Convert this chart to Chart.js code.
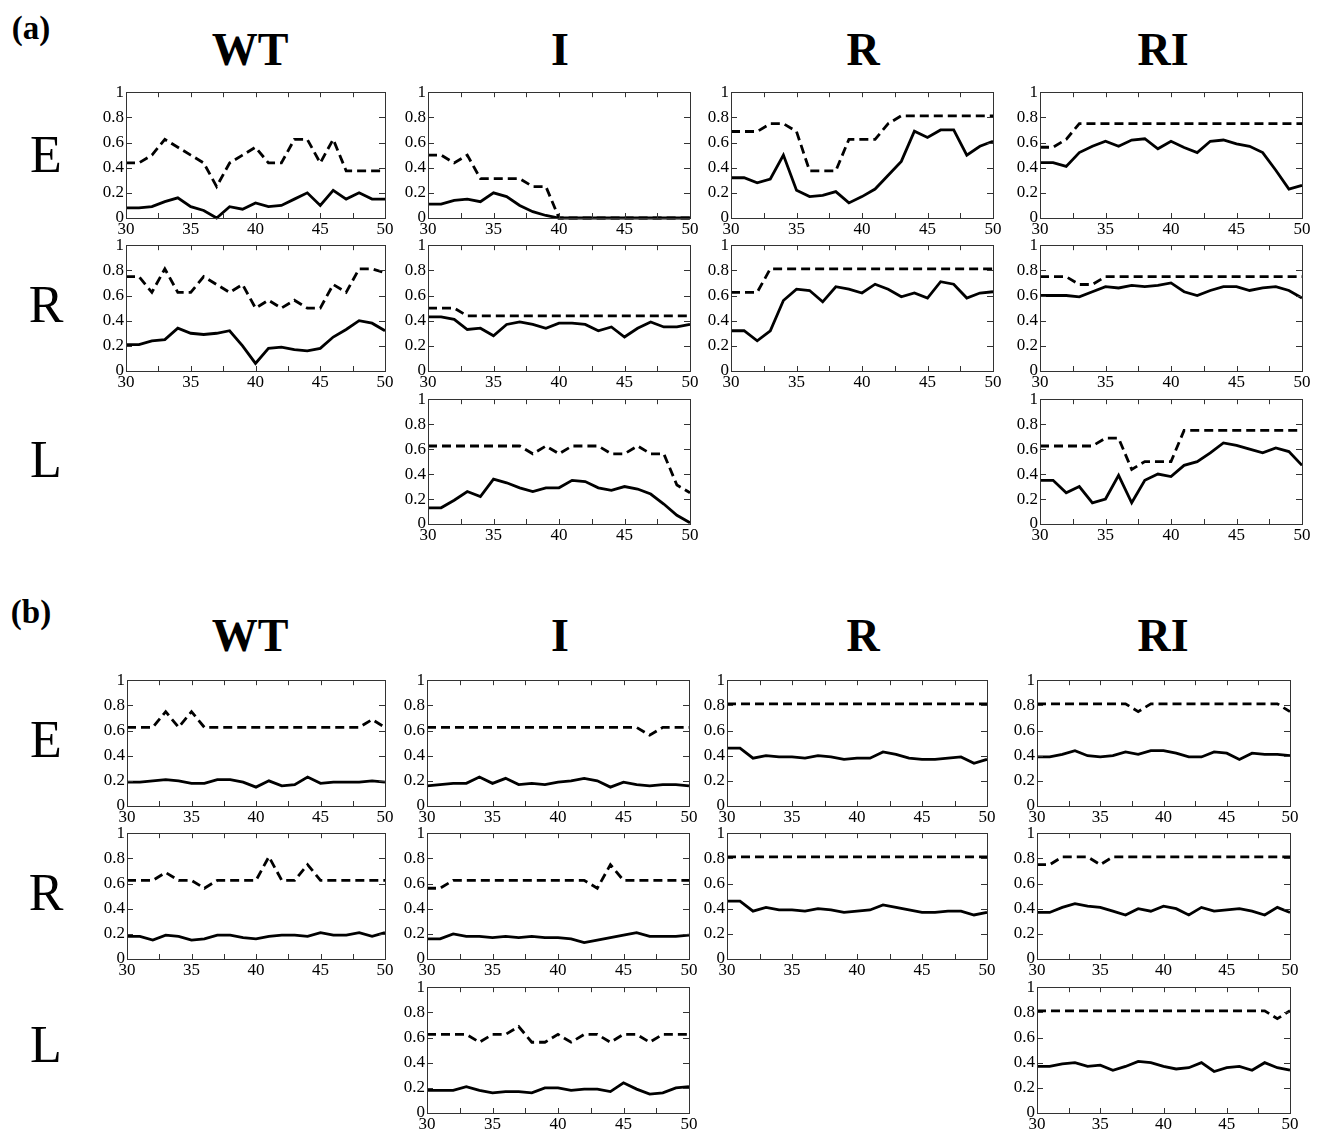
<!DOCTYPE html>
<html>
<head>
<meta charset="utf-8">
<script src="https://cdn.jsdelivr.net/npm/chart.js@4.4.1/dist/chart.umd.min.js"></script>
<style>
  body { margin: 0; background: #fff; width: 1318px; height: 1132px; position: relative; overflow: hidden;
         font-family: "Liberation Serif", "Times New Roman", serif; }
  .lbl { position: absolute; transform: translate(-50%, -50%); white-space: nowrap; line-height: 1; color: #000; }
  .col { font-weight: bold; font-size: 46px; }
  .row { font-size: 52px; }
  .pan { font-weight: bold; font-size: 33px; }
  canvas { position: absolute; }
</style>
</head>
<body>
<script>
// x axis (temperature steps), same for every small plot
const xValues = [30, 31, 32, 33, 34, 35, 36, 37, 38, 39, 40, 41, 42, 43, 44, 45, 46, 47, 48, 49, 50];

// ---- panel (a) ----
const aWT_E_solid = [0.08, 0.08, 0.09, 0.13, 0.16, 0.09, 0.06, 0.00, 0.09, 0.07, 0.12, 0.09, 0.10, 0.15, 0.20, 0.10, 0.22, 0.15, 0.20, 0.15, 0.15];
const aWT_E_dash  = [0.4375, 0.4375, 0.5, 0.625, 0.5625, 0.5, 0.4375, 0.25, 0.4375, 0.5, 0.5625, 0.4375, 0.4375, 0.625, 0.625, 0.4375, 0.625, 0.375, 0.375, 0.375, 0.375];
const aI_E_solid  = [0.11, 0.11, 0.14, 0.15, 0.13, 0.20, 0.17, 0.10, 0.05, 0.02, 0, 0, 0, 0, 0, 0, 0, 0, 0, 0, 0];
const aI_E_dash   = [0.5, 0.5, 0.4375, 0.5, 0.3125, 0.3125, 0.3125, 0.3125, 0.25, 0.25, 0, 0, 0, 0, 0, 0, 0, 0, 0, 0, 0];
const aR_E_solid  = [0.32, 0.32, 0.28, 0.31, 0.50, 0.22, 0.17, 0.18, 0.21, 0.12, 0.17, 0.23, 0.34, 0.45, 0.69, 0.64, 0.70, 0.70, 0.50, 0.57, 0.61];
const aR_E_dash   = [0.6875, 0.6875, 0.6875, 0.75, 0.75, 0.6875, 0.375, 0.375, 0.375, 0.625, 0.625, 0.625, 0.75, 0.8125, 0.8125, 0.8125, 0.8125, 0.8125, 0.8125, 0.8125, 0.8125];
const aRI_E_solid = [0.44, 0.44, 0.41, 0.52, 0.57, 0.61, 0.57, 0.62, 0.63, 0.55, 0.61, 0.56, 0.52, 0.61, 0.62, 0.59, 0.57, 0.52, 0.38, 0.23, 0.26];
const aRI_E_dash  = [0.5625, 0.5625, 0.625, 0.75, 0.75, 0.75, 0.75, 0.75, 0.75, 0.75, 0.75, 0.75, 0.75, 0.75, 0.75, 0.75, 0.75, 0.75, 0.75, 0.75, 0.75];

const aWT_R_solid = [0.21, 0.21, 0.24, 0.25, 0.34, 0.30, 0.29, 0.30, 0.32, 0.20, 0.06, 0.18, 0.19, 0.17, 0.16, 0.18, 0.27, 0.33, 0.40, 0.38, 0.32];
const aWT_R_dash  = [0.75, 0.75, 0.625, 0.8125, 0.625, 0.625, 0.75, 0.6875, 0.625, 0.6875, 0.5, 0.5625, 0.5, 0.5625, 0.5, 0.5, 0.6875, 0.625, 0.8125, 0.8125, 0.78];
const aI_R_solid  = [0.43, 0.43, 0.41, 0.33, 0.34, 0.28, 0.37, 0.39, 0.37, 0.34, 0.38, 0.38, 0.37, 0.32, 0.35, 0.27, 0.34, 0.39, 0.35, 0.35, 0.37];
const aI_R_dash   = [0.5, 0.5, 0.5, 0.4375, 0.4375, 0.4375, 0.4375, 0.4375, 0.4375, 0.4375, 0.4375, 0.4375, 0.4375, 0.4375, 0.4375, 0.4375, 0.4375, 0.4375, 0.4375, 0.4375, 0.4375];
const aR_R_solid  = [0.32, 0.32, 0.24, 0.32, 0.56, 0.65, 0.64, 0.55, 0.67, 0.65, 0.62, 0.69, 0.65, 0.59, 0.62, 0.58, 0.71, 0.69, 0.58, 0.62, 0.63];
const aR_R_dash   = [0.625, 0.625, 0.625, 0.8125, 0.8125, 0.8125, 0.8125, 0.8125, 0.8125, 0.8125, 0.8125, 0.8125, 0.8125, 0.8125, 0.8125, 0.8125, 0.8125, 0.8125, 0.8125, 0.8125, 0.8125];
const aRI_R_solid = [0.60, 0.60, 0.60, 0.59, 0.63, 0.67, 0.66, 0.68, 0.67, 0.68, 0.70, 0.63, 0.60, 0.64, 0.67, 0.67, 0.64, 0.66, 0.67, 0.64, 0.58];
const aRI_R_dash  = [0.75, 0.75, 0.75, 0.6875, 0.6875, 0.75, 0.75, 0.75, 0.75, 0.75, 0.75, 0.75, 0.75, 0.75, 0.75, 0.75, 0.75, 0.75, 0.75, 0.75, 0.75];

const aI_L_solid  = [0.13, 0.13, 0.19, 0.26, 0.22, 0.36, 0.33, 0.29, 0.26, 0.29, 0.29, 0.35, 0.34, 0.29, 0.27, 0.30, 0.28, 0.24, 0.16, 0.07, 0.01];
const aI_L_dash   = [0.625, 0.625, 0.625, 0.625, 0.625, 0.625, 0.625, 0.625, 0.5625, 0.625, 0.5625, 0.625, 0.625, 0.625, 0.5625, 0.5625, 0.625, 0.5625, 0.5625, 0.3125, 0.25];
const aRI_L_solid = [0.35, 0.35, 0.25, 0.30, 0.17, 0.20, 0.39, 0.17, 0.35, 0.40, 0.38, 0.47, 0.50, 0.57, 0.65, 0.63, 0.60, 0.57, 0.61, 0.58, 0.47];
const aRI_L_dash  = [0.625, 0.625, 0.625, 0.625, 0.625, 0.6875, 0.6875, 0.4375, 0.5, 0.5, 0.5, 0.75, 0.75, 0.75, 0.75, 0.75, 0.75, 0.75, 0.75, 0.75, 0.75];

// ---- panel (b) ----
const bWT_E_solid = [0.19, 0.19, 0.20, 0.21, 0.20, 0.18, 0.18, 0.21, 0.21, 0.19, 0.15, 0.20, 0.16, 0.17, 0.23, 0.18, 0.19, 0.19, 0.19, 0.20, 0.19];
const bWT_E_dash  = [0.625, 0.625, 0.625, 0.75, 0.625, 0.75, 0.625, 0.625, 0.625, 0.625, 0.625, 0.625, 0.625, 0.625, 0.625, 0.625, 0.625, 0.625, 0.625, 0.6875, 0.625];
const bI_E_solid  = [0.16, 0.17, 0.18, 0.18, 0.23, 0.18, 0.22, 0.17, 0.18, 0.17, 0.19, 0.20, 0.22, 0.20, 0.15, 0.19, 0.17, 0.16, 0.17, 0.17, 0.16];
const bI_E_dash   = [0.625, 0.625, 0.625, 0.625, 0.625, 0.625, 0.625, 0.625, 0.625, 0.625, 0.625, 0.625, 0.625, 0.625, 0.625, 0.625, 0.625, 0.5625, 0.625, 0.625, 0.625];
const bR_E_solid  = [0.46, 0.46, 0.38, 0.40, 0.39, 0.39, 0.38, 0.40, 0.39, 0.37, 0.38, 0.38, 0.43, 0.41, 0.38, 0.37, 0.37, 0.38, 0.39, 0.34, 0.37];
const bR_E_dash   = [0.8125, 0.8125, 0.8125, 0.8125, 0.8125, 0.8125, 0.8125, 0.8125, 0.8125, 0.8125, 0.8125, 0.8125, 0.8125, 0.8125, 0.8125, 0.8125, 0.8125, 0.8125, 0.8125, 0.8125, 0.8125];
const bRI_E_solid = [0.39, 0.39, 0.41, 0.44, 0.40, 0.39, 0.40, 0.43, 0.41, 0.44, 0.44, 0.42, 0.39, 0.39, 0.43, 0.42, 0.37, 0.42, 0.41, 0.41, 0.40];
const bRI_E_dash  = [0.8125, 0.8125, 0.8125, 0.8125, 0.8125, 0.8125, 0.8125, 0.8125, 0.75, 0.8125, 0.8125, 0.8125, 0.8125, 0.8125, 0.8125, 0.8125, 0.8125, 0.8125, 0.8125, 0.8125, 0.75];

const bWT_R_solid = [0.18, 0.18, 0.15, 0.19, 0.18, 0.15, 0.16, 0.19, 0.19, 0.17, 0.16, 0.18, 0.19, 0.19, 0.18, 0.21, 0.19, 0.19, 0.21, 0.18, 0.21];
const bWT_R_dash  = [0.625, 0.625, 0.625, 0.6875, 0.625, 0.625, 0.5625, 0.625, 0.625, 0.625, 0.625, 0.8125, 0.625, 0.625, 0.75, 0.625, 0.625, 0.625, 0.625, 0.625, 0.625];
const bI_R_solid  = [0.16, 0.16, 0.20, 0.18, 0.18, 0.17, 0.18, 0.17, 0.18, 0.17, 0.17, 0.16, 0.13, 0.15, 0.17, 0.19, 0.21, 0.18, 0.18, 0.18, 0.19];
const bI_R_dash   = [0.5625, 0.5625, 0.625, 0.625, 0.625, 0.625, 0.625, 0.625, 0.625, 0.625, 0.625, 0.625, 0.625, 0.5625, 0.75, 0.625, 0.625, 0.625, 0.625, 0.625, 0.625];
const bR_R_solid  = [0.46, 0.46, 0.38, 0.41, 0.39, 0.39, 0.38, 0.40, 0.39, 0.37, 0.38, 0.39, 0.43, 0.41, 0.39, 0.37, 0.37, 0.38, 0.38, 0.35, 0.37];
const bR_R_dash   = [0.8125, 0.8125, 0.8125, 0.8125, 0.8125, 0.8125, 0.8125, 0.8125, 0.8125, 0.8125, 0.8125, 0.8125, 0.8125, 0.8125, 0.8125, 0.8125, 0.8125, 0.8125, 0.8125, 0.8125, 0.8125];
const bRI_R_solid = [0.37, 0.37, 0.41, 0.44, 0.42, 0.41, 0.38, 0.35, 0.40, 0.38, 0.42, 0.40, 0.35, 0.41, 0.38, 0.39, 0.40, 0.38, 0.35, 0.41, 0.37];
const bRI_R_dash  = [0.75, 0.75, 0.8125, 0.8125, 0.8125, 0.75, 0.8125, 0.8125, 0.8125, 0.8125, 0.8125, 0.8125, 0.8125, 0.8125, 0.8125, 0.8125, 0.8125, 0.8125, 0.8125, 0.8125, 0.8125];

const bI_L_solid  = [0.18, 0.18, 0.18, 0.21, 0.18, 0.16, 0.17, 0.17, 0.16, 0.20, 0.20, 0.18, 0.19, 0.19, 0.17, 0.24, 0.19, 0.15, 0.16, 0.20, 0.21];
const bI_L_dash   = [0.625, 0.625, 0.625, 0.625, 0.5625, 0.625, 0.625, 0.6875, 0.5625, 0.5625, 0.625, 0.5625, 0.625, 0.625, 0.5625, 0.625, 0.625, 0.5625, 0.625, 0.625, 0.625];
const bRI_L_solid = [0.37, 0.37, 0.39, 0.40, 0.37, 0.38, 0.34, 0.37, 0.41, 0.40, 0.37, 0.35, 0.36, 0.40, 0.33, 0.36, 0.37, 0.34, 0.40, 0.36, 0.34];
const bRI_L_dash  = [0.8125, 0.8125, 0.8125, 0.8125, 0.8125, 0.8125, 0.8125, 0.8125, 0.8125, 0.8125, 0.8125, 0.8125, 0.8125, 0.8125, 0.8125, 0.8125, 0.8125, 0.8125, 0.8125, 0.75, 0.8125];

// axis tick marks drawn inside the frame
const xTickMarks = [32.5, 35, 37.5, 40, 42.5, 45, 47.5];
const yTickMarks = [0.2, 0.4, 0.6, 0.8];

// plot boxes: [left, right] per column, [top, bottom] per row
const colsA = { WT: [126, 385], I: [428, 690], R: [731, 993], RI: [1040, 1302] };
const rowsA = { E: [90, 218], R: [243, 371], L: [397, 524] };
const colsB = { WT: [127, 385], I: [427, 689], R: [727, 987], RI: [1037, 1290] };
const rowsB = { E: [678, 806], R: [831, 959], L: [985, 1113] };

const PAD_T = 10, PAD_R = 14, Y_W = 32, X_H = 22;
const serif = "'Liberation Serif', 'Times New Roman', serif";
const tickFont = { family: serif, size: 17 };
Chart.defaults.font.family = serif;

const framePlugin = {
  id: "frame",
  afterDraw(chart) {
    const { ctx, chartArea: a, scales } = chart;
    ctx.save();
    ctx.strokeStyle = "#333";
    ctx.lineWidth = 1;
    ctx.strokeRect(Math.round(a.left) + 0.5, Math.round(a.top) + 0.5,
                   Math.round(a.right - a.left), Math.round(a.bottom - a.top));
    ctx.beginPath();
    xTickMarks.forEach((v) => {
      const px = Math.round(scales.x.getPixelForValue(v)) + 0.5;
      ctx.moveTo(px, a.bottom); ctx.lineTo(px, a.bottom - 5);
      ctx.moveTo(px, a.top); ctx.lineTo(px, a.top + 5);
    });
    yTickMarks.forEach((v) => {
      const py = Math.round(scales.y.getPixelForValue(v)) + 0.5;
      ctx.moveTo(a.left, py); ctx.lineTo(a.left + 6, py);
      ctx.moveTo(a.right, py); ctx.lineTo(a.right - 6, py);
    });
    ctx.stroke();
    ctx.restore();
  },
};

function points(vals) {
  return xValues.map((x, i) => ({ x: x, y: vals[i] }));
}

function makePlot(box, solid, dash) {
  const [l, r, t, b] = box;
  const cv = document.createElement("canvas");
  const w = r - l + Y_W + PAD_R;
  const h = b - t + PAD_T + X_H;
  cv.width = w; cv.height = h;
  cv.style.left = (l - Y_W) + "px";
  cv.style.top = (t - PAD_T) + "px";
  cv.style.width = w + "px";
  cv.style.height = h + "px";
  document.body.appendChild(cv);

  new Chart(cv, {
    type: "line",
    data: {
      datasets: [
        { data: points(solid), borderColor: "#000", borderWidth: 2.8, pointRadius: 0, tension: 0, clip: 6 },
        { data: points(dash), borderColor: "#000", borderWidth: 2.8, borderDash: [9, 5], pointRadius: 0, tension: 0, clip: 6 },
      ],
    },
    options: {
      responsive: false,
      animation: false,
      devicePixelRatio: 1,
      layout: { padding: { top: PAD_T, right: PAD_R, left: 0, bottom: 0 } },
      plugins: { legend: { display: false }, tooltip: { enabled: false } },
      scales: {
        x: {
          type: "linear", min: 30, max: 50,
          grid: { display: false, drawTicks: false },
          border: { display: false },
          ticks: { stepSize: 5, padding: 1, font: tickFont, color: "#000", maxRotation: 0, autoSkip: false },
          afterFit(s) { s.height = X_H; },
        },
        y: {
          min: 0, max: 1,
          grid: { display: false, drawTicks: false },
          border: { display: false },
          ticks: { stepSize: 0.2, padding: 2, font: tickFont, color: "#000",
                   callback: (v) => String(Math.round(v * 10) / 10) },
          afterFit(s) { s.width = Y_W; },
        },
      },
    },
    plugins: [framePlugin],
  });
}

function label(text, cls, x, y) {
  const d = document.createElement("div");
  d.className = "lbl " + cls;
  d.textContent = text;
  d.style.left = x + "px";
  d.style.top = y + "px";
  document.body.appendChild(d);
}

function box(cols, rows, c, r) {
  return [cols[c][0], cols[c][1], rows[r][0], rows[r][1]];
}

// panel (a)
makePlot(box(colsA, rowsA, "WT", "E"), aWT_E_solid, aWT_E_dash);
makePlot(box(colsA, rowsA, "I", "E"), aI_E_solid, aI_E_dash);
makePlot(box(colsA, rowsA, "R", "E"), aR_E_solid, aR_E_dash);
makePlot(box(colsA, rowsA, "RI", "E"), aRI_E_solid, aRI_E_dash);
makePlot(box(colsA, rowsA, "WT", "R"), aWT_R_solid, aWT_R_dash);
makePlot(box(colsA, rowsA, "I", "R"), aI_R_solid, aI_R_dash);
makePlot(box(colsA, rowsA, "R", "R"), aR_R_solid, aR_R_dash);
makePlot(box(colsA, rowsA, "RI", "R"), aRI_R_solid, aRI_R_dash);
makePlot(box(colsA, rowsA, "I", "L"), aI_L_solid, aI_L_dash);
makePlot(box(colsA, rowsA, "RI", "L"), aRI_L_solid, aRI_L_dash);

// panel (b)
makePlot(box(colsB, rowsB, "WT", "E"), bWT_E_solid, bWT_E_dash);
makePlot(box(colsB, rowsB, "I", "E"), bI_E_solid, bI_E_dash);
makePlot(box(colsB, rowsB, "R", "E"), bR_E_solid, bR_E_dash);
makePlot(box(colsB, rowsB, "RI", "E"), bRI_E_solid, bRI_E_dash);
makePlot(box(colsB, rowsB, "WT", "R"), bWT_R_solid, bWT_R_dash);
makePlot(box(colsB, rowsB, "I", "R"), bI_R_solid, bI_R_dash);
makePlot(box(colsB, rowsB, "R", "R"), bR_R_solid, bR_R_dash);
makePlot(box(colsB, rowsB, "RI", "R"), bRI_R_solid, bRI_R_dash);
makePlot(box(colsB, rowsB, "I", "L"), bI_L_solid, bI_L_dash);
makePlot(box(colsB, rowsB, "RI", "L"), bRI_L_solid, bRI_L_dash);

// headings
label("(a)", "pan", 31, 28);
label("(b)", "pan", 31, 612);
[["WT", 250], ["I", 560], ["R", 863], ["RI", 1163]].forEach(([t, x]) => {
  label(t, "col", x, 50);
  label(t, "col", x, 636);
});
[["E", 155, 740], ["R", 305, 893], ["L", 460, 1045]].forEach(([t, ya, yb]) => {
  label(t, "row", 46, ya);
  label(t, "row", 46, yb);
});
</script>
</body>
</html>
